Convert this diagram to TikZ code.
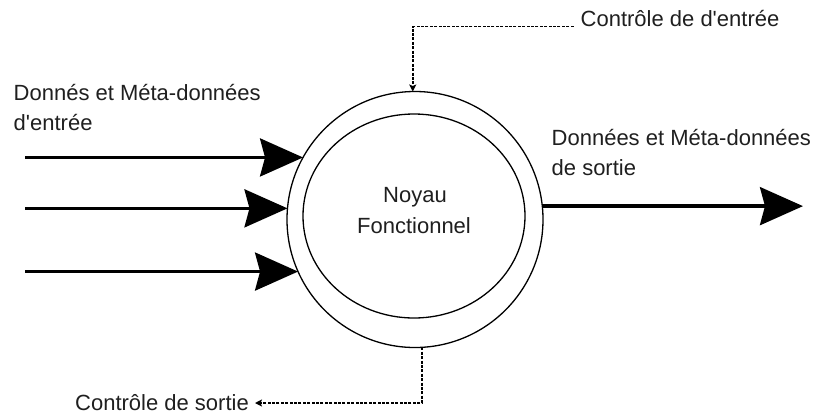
\documentclass[tikz,border=0pt]{standalone}
\usepackage{fontspec}
\setmainfont{Liberation Sans}
\usetikzlibrary{arrows.meta,shapes.geometric}
\begin{document}
\begin{tikzpicture}[x=1pt,y=-1pt,
  lbl/.style={font=\fontsize{22}{30}\selectfont, inner sep=0pt, text=black!88},
  ring/.style={draw, line width=1.3pt, inner sep=0pt, outer sep=0pt},
  flow/.style={line width=3.3pt, -{Stealth[length=43pt,width=38pt,inset=5pt]}},
  ctl/.style={line width=1.6pt, dash pattern=on 3pt off 1.4pt, -{Stealth[length=7pt,width=7pt,inset=1.5pt]}}
]
\useasboundingbox (0,0) rectangle (820,416);
% rings
\node[ring, circle, minimum size=256pt] (outer) at (415,219.5) {};
\node[ring, ellipse, minimum width=222pt, minimum height=204pt] (inner) at (414,216) {};
\node[lbl, anchor=base] (noyau) at (415,202) {Noyau};
\node[lbl, anchor=base] (fonct) at (414,233) {Fonctionnel};
% labels
\node[lbl, anchor=base west] (inA) at (13.5,100) {Donnés et Méta-données};
\node[lbl, anchor=base west] (inB) at (13.5,130) {d\textquotesingle entrée};
\node[lbl, anchor=base west] (outA) at (551.5,145) {Données et Méta-données};
\node[lbl, anchor=base west] (outB) at (551.5,175) {de sortie};
\node[lbl, anchor=base west] (ctlin) at (580.5,26.5) {Contrôle de d\textquotesingle entrée};
\node[lbl, anchor=base east] (ctlout) at (249,410) {Contrôle de sortie};
% input arrows
\coordinate (x0) at (25,0);
\coordinate (x1) at (803,0);
\draw[flow] (outer.151 -| x0) -- (outer.151);
\draw[flow] (outer.175.3 -| x0) -- (outer.175.3);
\draw[flow] (outer.204.2 -| x0) -- (outer.204.2);
% output arrow
\draw[flow] (outer.6.5) -- (outer.6.5 -| x1);
% control lines
\draw[ctl] ([xshift=-7pt]ctlin.base west) -| (outer.91);
\draw[ctl] (outer.273) |- ([xshift=6pt,yshift=7pt]ctlout.base east);
\end{tikzpicture}
\end{document}
